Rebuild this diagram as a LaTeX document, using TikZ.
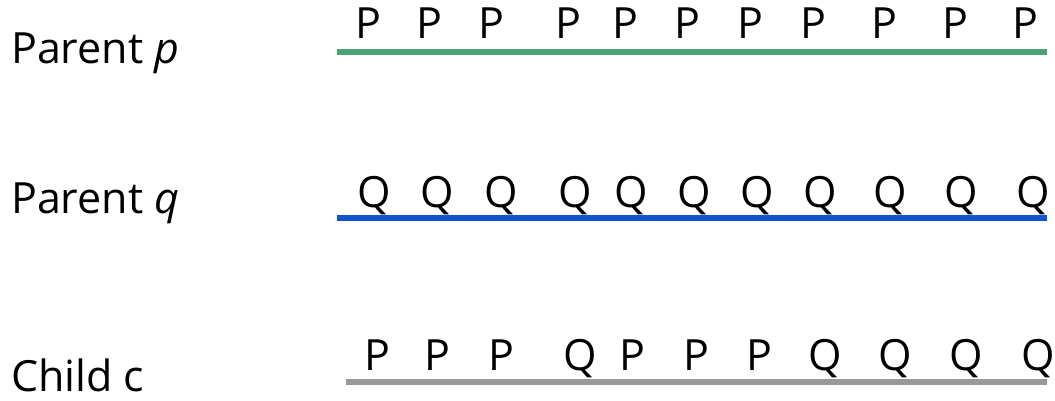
\documentclass[tikz,border=0pt]{standalone}
\usepackage{fontspec}
\setmainfont{Open Sans}
\definecolor{pgreen}{HTML}{4DA375}
\definecolor{qblue}{HTML}{1155CC}
\definecolor{cgray}{HTML}{999999}
\begin{document}
\begin{tikzpicture}[x=1pt,y=1pt,
  lab/.style={anchor=base west,inner sep=0pt,font=\fontsize{43}{43}\selectfont},
  gene/.style={anchor=base,inner sep=0pt,font=\fontsize{43}{43}\selectfont},
  chrom/.style={line width=6pt}]
\useasboundingbox (0,0) rectangle (1055,400);
% labels
\node[lab] (lp) at (11,337) {Parent \textit{p}};
\node[lab] (lq) at (11,187) {Parent \textit{q}};
\node[lab] (lc) at (11,9) {Child c};
% parent p
\foreach \x [count=\i] in {368,429,491,568,625,687,750,813,884,955,1025}
  \node[gene] (p\i) at (\x,361) {P};
\coordinate (pa) at (337,348);
\coordinate (pb) at (1047,348);
\draw[chrom,pgreen] (pa) -- (pb);
% parent q
\foreach \x [count=\i] in {374,437,501,575,631,694,757,820,890,961,1033}
  \node[gene] (q\i) at (\x,193) {Q};
\coordinate (qa) at (337,182);
\coordinate (qb) at (1047,182);
\draw[chrom,qblue] (qa) -- (qb);
% child c
\foreach \x/\g [count=\i] in {377/P,437/P,501/P,580/Q,632/P,696/P,759/P,825/Q,895/Q,966/Q,1038/Q}
  \node[gene] (c\i) at (\x,30) {\g};
\coordinate (ca) at (346,18);
\coordinate (cb) at (1047,18);
\draw[chrom,cgray] (ca) -- (cb);
\end{tikzpicture}
\end{document}
